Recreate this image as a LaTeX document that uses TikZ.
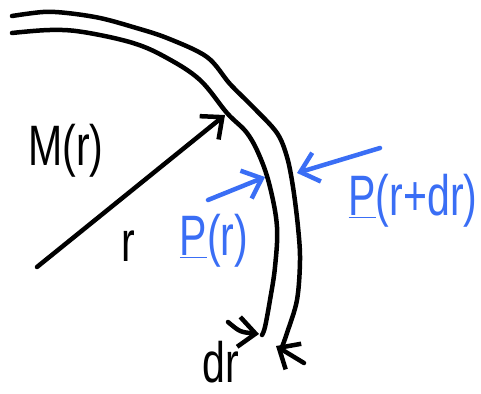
\documentclass[tikz,border=0pt]{standalone}
\usepackage{fontspec}
\setmainfont{Liberation Sans}
\usepackage{xcolor}
\usetikzlibrary{arrows.meta}
\definecolor{penblue}{RGB}{58,110,245}

\begin{document}
\begin{tikzpicture}[x=1pt,y=-1pt,
		pen/.style={line width=4.5pt,line cap=round,line join=round},
		hand/.style={font=\fontsize{57}{60}\selectfont,xscale=0.72,inner sep=0pt},
		tip/.style={-{Straight Barb[length=17pt,width=30pt]}}]
		\useasboundingbox (0,0) rectangle (481,393);
		% the two walls of the shell
		\draw[pen] plot[smooth,tension=0.55] coordinates {(12,16) (43,12) (67,13) (100,18) (133,27) (167,38) (207,57) (230,84) (254,108) (277,133) (287,157) (293,187) (298,227) (300,260) (297,300) (287,333) (282,347)};
		\draw[pen] plot[smooth,tension=0.6] coordinates {(12,33) (50,30) (83,32) (133,43) (167,58) (200,80) (227,113) (247,133) (260,157) (270,187) (277,227) (275,267) (270,300) (265,327) (262,335)};
		% radius
		\coordinate (centre) at (37,267);
		\coordinate (hit) at (225,115);
		\draw[pen,tip] (centre) -- (hit);
		\node[hand] (mass) at (66,151) {M(r)};
		\node[hand] (rad) at (128,246) {r};
		% pressures on both walls
		\coordinate (pin) at (208,200);
		\coordinate (pinhit) at (265,177);
		\coordinate (pout) at (380,148);
		\coordinate (pouthit) at (297,173);
		\draw[pen,penblue,tip] (pin) -- (pinhit);
		\draw[pen,penblue,tip] (pout) -- (pouthit);
		\node[hand,text=penblue] (pr) at (214,241) {\underline{P}(r)};
		\node[hand,text=penblue] (prdr) at (413,201) {\underline{P}(r+dr)};
		% thickness
		\coordinate (dl) at (228,322);
		\coordinate (dlhit) at (259,334);
		\coordinate (dh) at (304,363);
		\coordinate (dhhit) at (276,346);
		\draw[pen,tip] (dl) .. controls (240,332) .. (dlhit);
		\draw[pen,tip] (dh) -- (dhhit);
		\node[hand] (thick) at (221,362) {dr};
	\end{tikzpicture}
\end{document}
